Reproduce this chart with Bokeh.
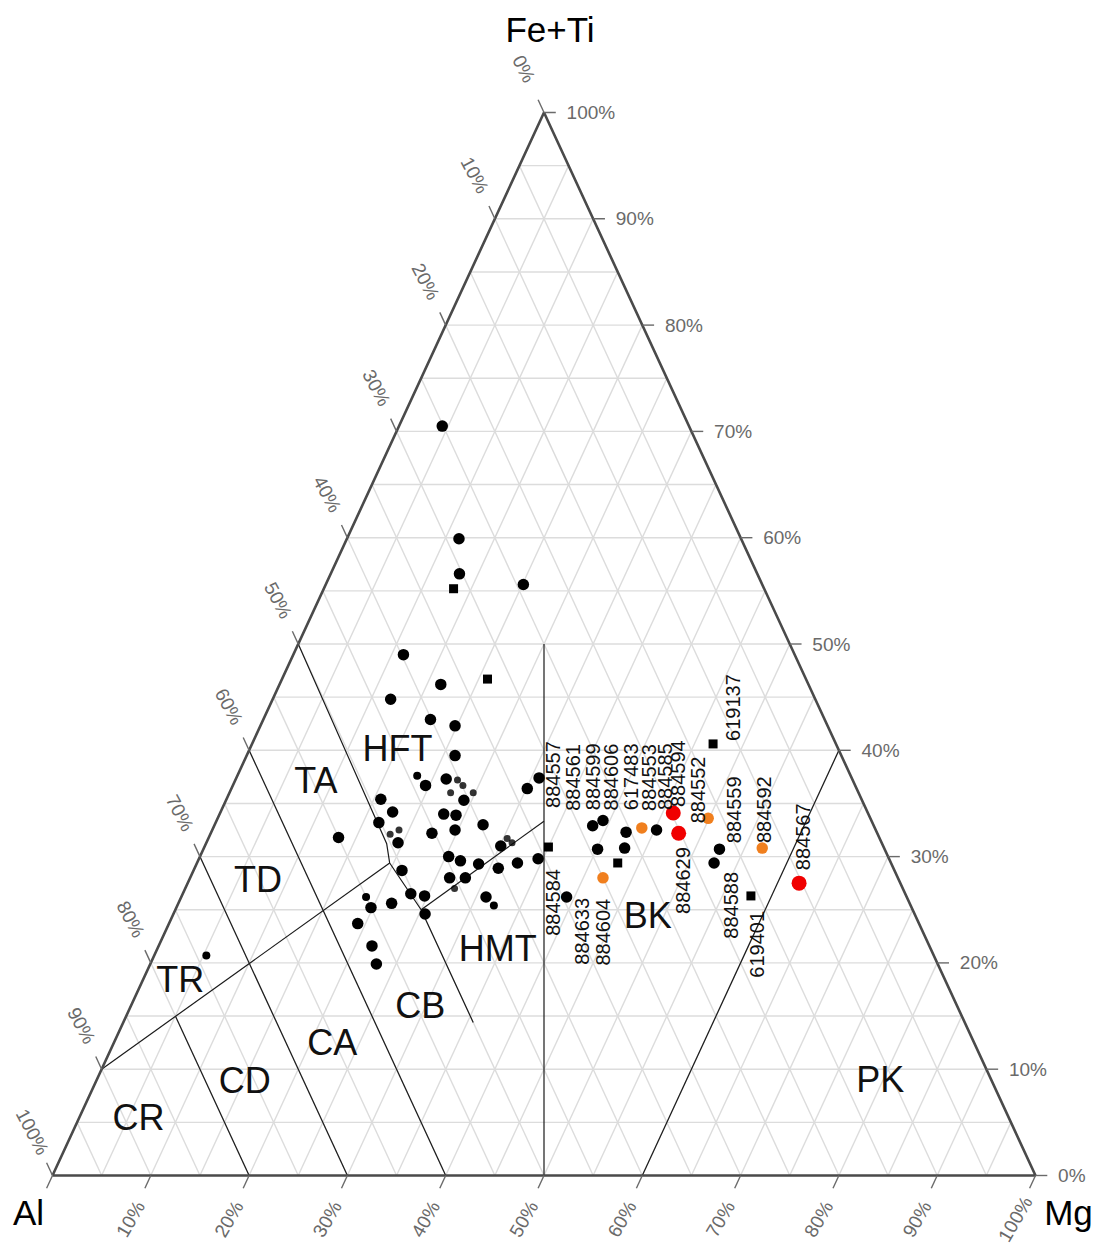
import numpy as np
from bokeh.plotting import figure
from bokeh.models import Range1d, ColumnDataSource
from bokeh.core.properties import value
from bokeh.embed import file_html
from bokeh.resources import INLINE

# ---------------- data (cation %, Al = 100 - FeTi - Mg) ----------------
circle_fe = [70.5, 59.9, 56.6, 55.6, 49.0, 46.2, 44.8, 42.9, 42.3, 39.5, 36.7, 37.3,
             35.3, 35.4, 34.2, 34.0, 33.9, 33.0, 33.2, 31.8, 32.2, 32.5, 31.3, 31.0,
             36.4, 29.8, 30.0, 29.6, 29.3, 28.9, 29.4, 28.7, 28.0, 28.0, 26.5, 26.3,
             25.2, 25.6, 26.2, 24.6, 23.7, 21.6, 19.9, 30.8]
circle_mg = [4.4, 11.4, 13.1, 20.1, 11.2, 16.4, 12.0, 17.0, 19.8, 21.2, 19.6, 21.4,
             24.2, 15.7, 17.5, 22.8, 24.1, 27.3, 16.6, 13.2, 22.5, 24.7, 19.5, 30.1,
             30.1, 34.5, 25.3, 26.7, 28.7, 30.9, 32.6, 21.2, 26.4, 28.0, 23.2, 24.7,
             19.8, 21.7, 31.0, 25.6, 19.2, 21.7, 23.0, 42.8]
small_fe = [37.6, 26.2, 25.4, 20.7]
small_mg = [18.3, 18.8, 32.2, 5.3]
faint_fe = [37.2, 36.0, 36.7, 36.0, 32.5, 32.1, 31.7, 31.3, 27.0]
faint_mg = [22.6, 22.5, 23.4, 24.8, 19.0, 18.3, 30.4, 31.1, 27.4]
square_fe = [55.2, 46.7, 29.4]
square_mg = [13.2, 20.9, 42.8]

sample_id = ["884557", "884561", "884599", "884606", "617483", "884553", "884585",
             "884594", "884552", "619137", "884559", "884592", "884567",
             "884584", "884633", "884604", "884629", "884588", "619401"]
sample_fe = [37.4, 32.9, 30.7, 33.4, 32.3, 32.7, 32.5, 34.1, 33.6, 40.6, 30.7, 30.8, 27.5,
             30.9, 26.2, 28.0, 32.2, 29.4, 26.3]
sample_mg = [30.8, 38.5, 40.1, 39.3, 42.2, 43.6, 45.2, 46.1, 49.9, 46.9, 52.5, 56.8, 62.2,
             35.0, 39.2, 42.0, 47.6, 52.6, 57.9]
sample_kind = ["circle", "circle", "circle", "circle", "circle", "orange", "circle",
               "red", "orange", "square", "circle", "orange", "red",
               "square", "circle", "orange", "red", "circle", "square"]

# field boundaries (FeTi %, Mg %)
boundaries = {
    "th_ca_1": ([10, 29.4], [0, 19.6]),
    "al50": ([50, 31.2, 29.4, 25, 14.4], [0, 18.4, 19.6, 25, 35.6]),
    "th_ca_2": ([25, 33.33], [25, 33.33]),
    "al60": ([40, 0], [0, 40]),
    "al70": ([30, 0], [0, 30]),
    "al80": ([15, 0], [5, 20]),
    "mid": ([50, 0], [25, 50]),
    "mg60": ([40, 0], [60, 60]),
}
field_name = ["HFT", "TA", "TD", "TR", "CR", "CD", "CA", "CB", "HMT", "BK", "PK"]
field_fe = [40.2, 37.2, 27.8, 18.4, 5.5, 8.9, 12.5, 16.0, 21.4, 24.5, 9.0]
field_mg = [15.0, 8.2, 7.0, 3.8, 6.0, 15.1, 22.2, 29.4, 34.6, 48.3, 79.7]

tick_values = list(range(0, 101, 10))
tick_labels = [f"{v}%" for v in tick_values]

# ---------------- helpers ----------------
def xy(fe, mg):
    fe = np.asarray(fe, dtype=float)
    mg = np.asarray(mg, dtype=float)
    return mg + fe / 2.0, fe

# label offsets (pixels) and orientation for the sample labels
label_offsets = {
    "884557": (14, 30, "up"), "884561": (-20, -15, "up"), "884599": (-5, -39, "up"),
    "884606": (8, -10, "up"), "617483": (5, -22, "up"), "884553": (7, -17, "up"),
    "884585": (8, -20, "up"), "884594": (5, -6, "up"), "884552": (-10, 5, "up"),
    "619137": (20, -3, "up"), "884559": (15, -6, "up"), "884592": (2, -5, "up"),
    "884567": (4, -13, "up"), "884584": (5, 22, "down"), "884633": (15, 1, "down"),
    "884604": (0, 21, "down"), "884629": (4, 14, "down"), "884588": (17, 9, "down"),
    "619401": (6, 15, "down"),
}

SANS = value("Liberation Sans")

# ---------------- figure ----------------
W, H = 1095, 1249
sx, sy = 9.83, 10.63
x0 = -52 / sx
y1 = 100 + 112 / sy
p = figure(width=W, height=H, x_range=Range1d(x0, x0 + W / sx),
           y_range=Range1d(y1 - H / sy, y1), x_axis_type=None, y_axis_type=None,
           output_backend="svg", toolbar_location=None, min_border=0)
p.grid.visible = False
p.outline_line_color = None
p.background_fill_color = "white"
p.border_fill_color = "white"

# grid every 5 %
gxs, gys = [], []
for v in range(5, 100, 5):
    for fe_pair, mg_pair in (([v, v], [0, 100 - v]),          # constant Fe
                             ([0, 100 - v], [v, v]),          # constant Mg
                             ([0, 100 - v], [100 - v, 0])):   # constant Al
        gx, gy = xy(fe_pair, mg_pair)
        gxs.append(list(gx)); gys.append(list(gy))
p.multi_line(gxs, gys, line_color="#dcdcdc", line_width=1.4)

# field boundaries
bx, by = [], []
for fe_l, mg_l in boundaries.values():
    gx, gy = xy(fe_l, mg_l)
    bx.append(list(gx)); by.append(list(gy))
p.multi_line(bx, by, line_color="#1a1a1a", line_width=1.2)

# triangle outline
tx, ty = xy([0, 100, 0, 0], [0, 0, 100, 0])
p.line(tx, ty, line_color="#4a4a4a", line_width=2.6)

# ticks and tick labels
tv = np.array(tick_values, dtype=float)
tl = 1.2
d = 4.1
# Al axis (left edge)
ex, ey = xy(100 - tv, np.zeros_like(tv))
p.segment(ex, ey, ex - 0.5 * tl, ey + tl, line_color="#6a6a6a", line_width=1.4)
p.text(ex - 0.5 * d, ey + d, text=tick_labels, angle=np.radians(-62),
       text_align="center", text_baseline="middle", text_font=SANS,
       text_font_size="19px", text_color="#6a6a6a")
# Fe+Ti axis (right edge)
ex, ey = xy(tv, 100 - tv)
p.segment(ex, ey, ex + tl, ey, line_color="#6a6a6a", line_width=1.4)
p.text(ex + 2.3, ey, text=tick_labels, text_align="left", text_baseline="middle",
       text_font=SANS, text_font_size="19px", text_color="#6a6a6a")
# Mg axis (bottom edge)
ex, ey = xy(np.zeros_like(tv), tv)
p.segment(ex, ey, ex - 0.5 * tl, ey - tl, line_color="#6a6a6a", line_width=1.4)
p.text(ex[1:] - 0.5 * d, ey[1:] - d, text=tick_labels[1:], angle=np.radians(60),
       text_align="center", text_baseline="middle", text_font=SANS,
       text_font_size="19px", text_color="#6a6a6a")

# vertex labels
vx, vy = xy([100, 0, 0], [0, 0, 100])
p.text(vx, vy, text=["Fe+Ti", "Al", "Mg"], x_offset=[6, -24, 33], y_offset=[-83, 37, 37],
       text_align="center", text_baseline="middle", text_font=SANS,
       text_font_size="35px", text_color="black")

# field labels
fx, fy = xy(field_fe, field_mg)
p.text(fx, fy, text=field_name, text_align="center", text_baseline="middle",
       text_font=SANS, text_font_size="36px", text_color="#111111")

# points
cx, cy = xy(circle_fe, circle_mg)
p.scatter(cx, cy, marker="circle", size=11.5, fill_color="black", line_color=None)
cx, cy = xy(small_fe, small_mg)
p.scatter(cx, cy, marker="circle", size=8, fill_color="black", line_color=None)
cx, cy = xy(faint_fe, faint_mg)
p.scatter(cx, cy, marker="circle", size=7, fill_color="black", fill_alpha=0.8, line_color=None)
cx, cy = xy(square_fe, square_mg)
p.scatter(cx, cy, marker="square", size=9, fill_color="black", line_color=None)

style = {"circle": ("circle", 11.5, "black"), "square": ("square", 9, "black"),
         "orange": ("circle", 11.5, "#f07f1e"), "red": ("circle", 15, "#f00000")}
sxv, syv = xy(sample_fe, sample_mg)
for kind, (mk, sz, col) in style.items():
    idx = [i for i, k in enumerate(sample_kind) if k == kind]
    p.scatter(sxv[idx], syv[idx], marker=mk, size=sz, fill_color=col, line_color=None)

for direction, align in (("up", "left"), ("down", "right")):
    idx = [i for i, s in enumerate(sample_id) if label_offsets[s][2] == direction]
    src = ColumnDataSource(dict(
        x=sxv[idx], y=syv[idx], t=[sample_id[i] for i in idx],
        dx=[label_offsets[sample_id[i]][0] for i in idx],
        dy=[label_offsets[sample_id[i]][1] for i in idx]))
    p.text("x", "y", text="t", x_offset="dx", y_offset="dy", source=src,
           angle=np.pi / 2, text_align=align, text_baseline="middle",
           text_font=SANS, text_font_size="20px", text_color="#111111")

open("out.html", "w").write(file_html(p, INLINE))
